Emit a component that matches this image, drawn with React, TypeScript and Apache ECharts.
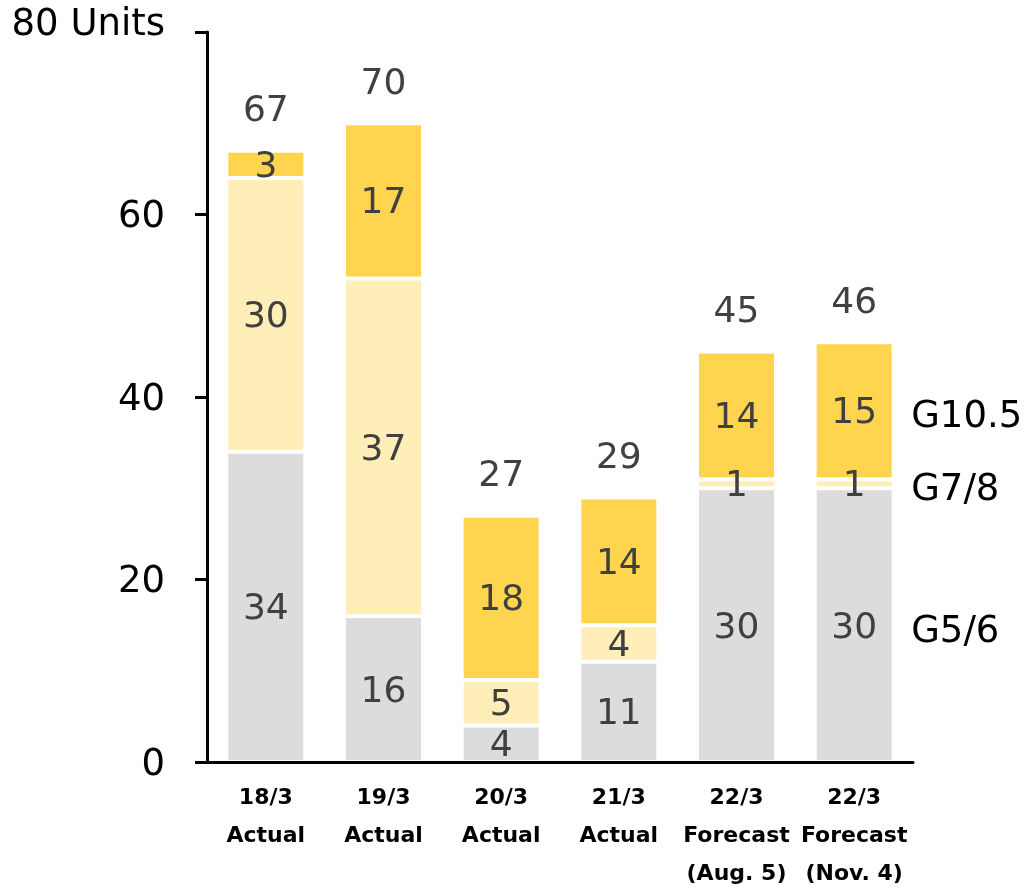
import React, { useEffect, useRef } from "react";
import * as echarts from "echarts";

const categories = ["18/3\nActual", "19/3\nActual", "20/3\nActual", "21/3\nActual", "22/3\nForecast\n(Aug. 5)", "22/3\nForecast\n(Nov. 4)"];
const g56 = [34, 16, 4, 11, 30, 30];
const g78 = [30, 37, 5, 4, 1, 1];
const g105 = [3, 17, 18, 14, 14, 15];
const totals = [67, 70, 27, 29, 45, 46];
const seriesNames = ["G5/6", "G7/8", "G10.5"];
const yTicks = [0, 20, 40, 60, 80];

const FONT = "DejaVu Sans, Verdana, sans-serif";

export default function App() {
  const ref = useRef<HTMLDivElement>(null);
  useEffect(() => {
    if (!ref.current) return;
    const chart = echarts.init(ref.current, null, { renderer: "svg" });
    const valueLabel = {
      show: true,
      position: "inside",
      color: "#404040",
      fontSize: 36,
      fontFamily: FONT,
    };
    const colors = ["#dcdcdc", "#ffeeb7", "#ffd54f"];
    const datas = [g56, g78, g105];
    const series: any[] = datas.map((d, i) => ({
      name: seriesNames[i],
      type: "bar",
      stack: "total",
      data: d,
      barWidth: 79,
      itemStyle: { color: colors[i], borderColor: "#ffffff", borderWidth: 2 },
      label: valueLabel,
    }));
    series.push({
      name: "Total",
      type: "bar",
      stack: "total",
      data: totals.map(() => 0),
      barWidth: 79,
      itemStyle: { color: "transparent", borderWidth: 0 },
      label: {
        show: true,
        position: "top",
        distance: 24,
        color: "#404040",
        fontSize: 36,
        fontFamily: FONT,
        formatter: (p: any) => String(totals[p.dataIndex]),
      },
    });
    chart.setOption({
      animation: false,
      grid: { left: 207, right: 112, top: 32, bottom: 130 },
      xAxis: {
        type: "category",
        data: categories,
        z: 10,
        axisLine: { show: true, lineStyle: { color: "#000", width: 3 } },
        axisTick: { show: false },
        axisLabel: {
          color: "#000",
          fontSize: 22,
          fontWeight: "bold",
          fontFamily: FONT,
          lineHeight: 38,
          margin: 15,
          interval: 0,
        },
      },
      yAxis: {
        type: "value",
        min: yTicks[0],
        max: yTicks[yTicks.length - 1],
        interval: 20,
        z: 10,
        splitLine: { show: false },
        axisLine: { show: true, lineStyle: { color: "#000", width: 3 } },
        axisTick: { show: true, length: 12, lineStyle: { color: "#000", width: 3 } },
        axisLabel: {
          color: "#000",
          fontSize: 37,
          fontFamily: FONT,
          margin: 42,
          formatter: (v: number) => (v === 80 ? "{top|80 Units}" : String(v)),
          rich: {
            top: { fontSize: 37, fontFamily: FONT, color: "#000", padding: [0, 0, 20, 0] },
          },
        },
      },
      series,
    });
    // Right-side series labels, positioned at the middle of the last bar's segments
    const last = categories.length - 1;
    let base = 0;
    const graphics: any[] = [];
    datas.forEach((d, i) => {
      const mid = base + d[last] / 2;
      base += d[last];
      const pt = chart.convertToPixel({ gridIndex: 0 }, [last, mid]);
      graphics.push({
        type: "text",
        x: pt[0] + 57,
        y: pt[1] + 4,
        style: {
          text: seriesNames[i],
          fill: "#000",
          fontSize: 37,
          fontFamily: FONT,
          verticalAlign: "middle",
          align: "left",
        },
      });
    });
    chart.setOption({ graphic: graphics });
    return () => chart.dispose();
  }, []);
  return (
    <div
      ref={ref}
      style={{ position: "fixed", left: 0, top: 0, width: 1025, height: 892 }}
    />
  );
}
